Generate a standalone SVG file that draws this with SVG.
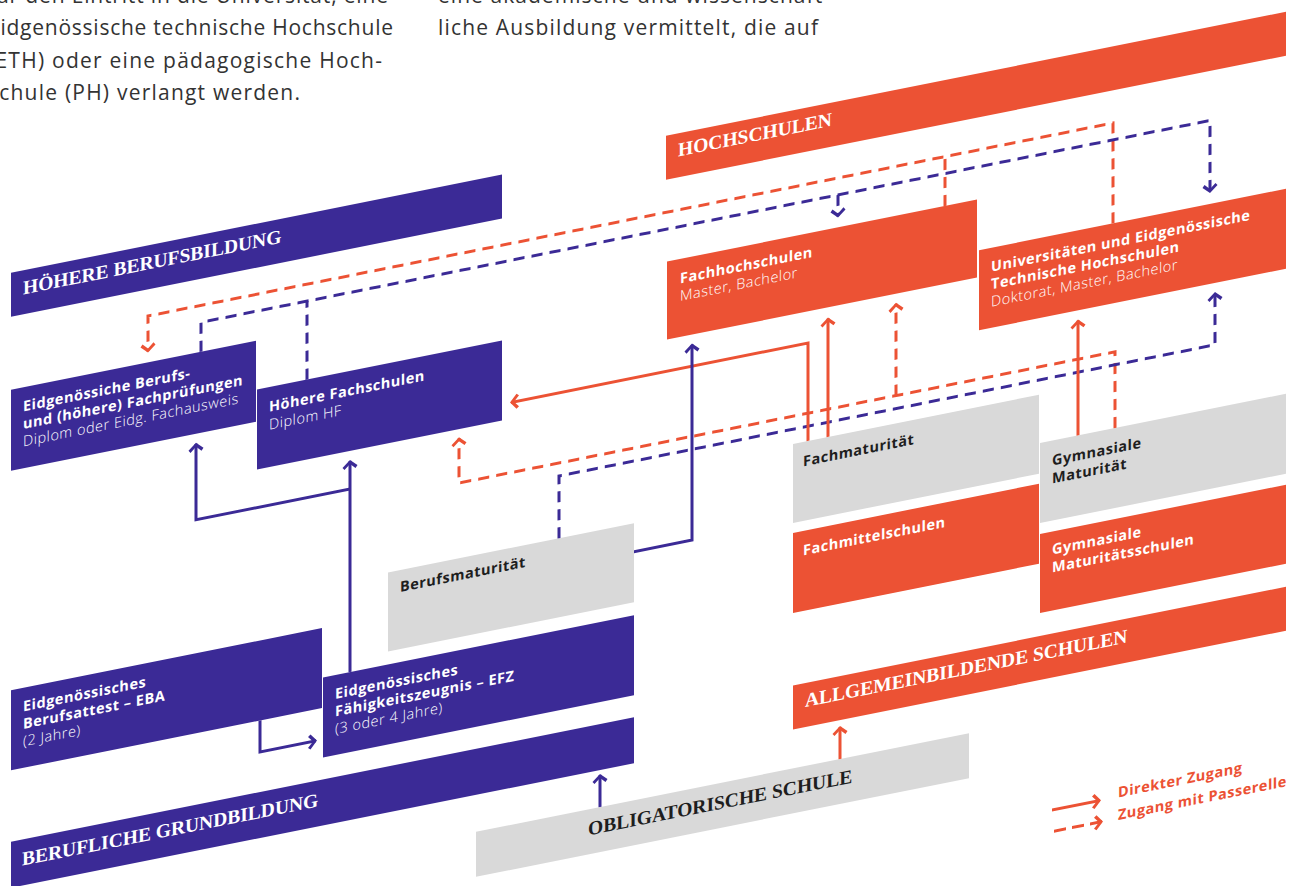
<svg xmlns="http://www.w3.org/2000/svg" width="1290" height="886" viewBox="0 0 1290 886">
<defs>
<style>
.p{fill:#3B2A96}.o{fill:#EC5234}.g{fill:#D9D9D9}
.h{font-family:"Liberation Serif",serif;font-weight:bold;font-size:19.5px;fill:#fff}
.b{font-family:"Open Sans",sans-serif;font-weight:700;font-size:14.5px;letter-spacing:0.5px;fill:#fff}
.r{font-family:"Open Sans",sans-serif;font-weight:300;font-size:14.5px;letter-spacing:0.5px;fill:#fff}
.k{fill:#1e1e1e}
.lg{fill:#EC5234}
.para{font-family:"Open Sans",sans-serif;font-size:21px;fill:#333}
.cp{fill:none;stroke:#3B2A96;stroke-width:3}
.co{fill:none;stroke:#EC5234;stroke-width:3}
.d{stroke-dasharray:11 7}
</style>
<marker id="ap" markerUnits="userSpaceOnUse" markerWidth="20" markerHeight="20" viewBox="-10 -10 20 20" refX="0" refY="0" orient="auto"><path d="M1,0 L-5.5,-7.5 L-8,-5.5 L-3,0 L-8,5.5 L-5.5,7.5 Z" fill="#3B2A96"/></marker>
<marker id="ao" markerUnits="userSpaceOnUse" markerWidth="20" markerHeight="20" viewBox="-10 -10 20 20" refX="0" refY="0" orient="auto"><path d="M1,0 L-5.5,-7.5 L-8,-5.5 L-3,0 L-8,5.5 L-5.5,7.5 Z" fill="#EC5234"/></marker>
</defs>
<rect width="1290" height="886" fill="#fff"/>
<g id="intro-text" class="para">
<text x="-12" y="2.5" textLength="400">für den Eintritt in die Universität, eine</text>
<text x="-12" y="35" textLength="405">Eidgenössische technische Hochschule</text>
<text x="-12" y="67.5" textLength="394">(ETH) oder eine pädagogische Hoch-</text>
<text x="-12" y="100" textLength="312">schule (PH) verlangt werden.</text>
<text x="438" y="2.5" textLength="392">eine akademische und wissenschaft-</text>
<text x="438" y="35" textLength="380">liche Ausbildung vermittelt, die auf</text>
</g>
<g transform="matrix(1,-0.2,0,1,0,0)">
<g id="hoehere-berufsbildung"><rect class="p" x="11" y="275" width="491" height="44"/><text class="h" x="23" y="299">HÖHERE BERUFSBILDUNG</text></g>
<g id="hochschulen"><rect class="o" x="666" y="269" width="620" height="44"/><text class="h" x="678" y="292">HOCHSCHULEN</text></g>
<g id="fachhochschulen"><rect class="o" x="667" y="395" width="310" height="78"/><text class="b" x="680" y="419.5">Fachhochschulen</text><text class="r" x="680" y="437">Master, Bachelor</text></g>
<g id="universitaeten"><rect class="o" x="979" y="446" width="307" height="80"/><text class="b" x="991" y="470">Universitäten und Eidgenössische</text><text class="b" x="991" y="487.5">Technische Hochschulen</text><text class="r" x="991" y="505">Doktorat, Master, Bachelor</text></g>
<g id="eidg-fachpruefungen"><rect class="p" x="11" y="392" width="245" height="81"/><text class="b" x="23" y="416">Eidgenössiche Berufs-</text><text class="b" x="23" y="433.5">und (höhere) Fachprüfungen</text><text class="r" x="23" y="451">Diplom oder Eidg. Fachausweis</text></g>
<g id="hoehere-fachschulen"><rect class="p" x="257" y="441" width="245" height="80"/><text class="b" x="269" y="465.5">Höhere Fachschulen</text><text class="r" x="269" y="483.5">Diplom HF</text></g>
<g id="berufsmaturitaet"><rect class="g" x="388" y="650" width="246" height="79"/><text class="b k" x="400" y="672">Berufsmaturität</text></g>
<g id="fachmaturitaet"><rect class="g" x="793" y="602.5" width="246" height="79"/><text class="b k" x="803" y="627">Fachmaturität</text></g>
<g id="fachmittelschulen"><rect class="o" x="793" y="691.5" width="246" height="80"/><text class="b" x="803" y="716">Fachmittelschulen</text></g>
<g id="gymnasiale-maturitaet"><rect class="g" x="1040" y="651" width="246" height="80"/><text class="b k" x="1052" y="676">Gymnasiale</text><text class="b k" x="1052" y="694">Maturität</text></g>
<g id="gymnasiale-maturitaetsschulen"><rect class="o" x="1040" y="742" width="246" height="79"/><text class="b" x="1052" y="765">Gymnasiale</text><text class="b" x="1052" y="783">Maturitätsschulen</text></g>
<g id="allgemeinbildende-schulen"><rect class="o" x="793" y="844" width="493" height="44"/><text class="h" x="805" y="868">ALLGEMEINBILDENDE SCHULEN</text></g>
<g id="eba"><rect class="p" x="11" y="692.5" width="311" height="80"/><text class="b" x="23" y="716">Eidgenössisches</text><text class="b" x="23" y="733.5">Berufsattest – EBA</text><text class="r" x="23" y="751">(2 Jahre)</text></g>
<g id="efz"><rect class="p" x="323" y="742" width="311" height="80"/><text class="b" x="335" y="766">Eidgenössisches</text><text class="b" x="335" y="783.5">Fähigkeitszeugnis – EFZ</text><text class="r" x="335" y="801">(3 oder 4 Jahre)</text></g>
<g id="berufliche-grundbildung"><rect class="p" x="11" y="844" width="623" height="46"/><text class="h" x="22" y="870">BERUFLICHE GRUNDBILDUNG</text></g>
<g id="obligatorische-schule"><rect class="g" x="476" y="927" width="493" height="45"/><text class="h k" x="588" y="953">OBLIGATORISCHE SCHULE</text></g>
<g id="connectors">
<path class="co d" d="M1113,446 V345.6 H148 V381" marker-end="url(#ao)"/>
<path class="co d" d="M945,395 V345.6"/>
<path class="cp d" d="M201,392 V362.5 H1210 V434" marker-end="url(#ap)"/>
<path class="cp d" d="M307,441 V362.5"/>
<path class="cp d" d="M838,362.5 V384" marker-end="url(#ap)"/>
<path class="co d" d="M1115,651 V574.8 H459 V530" marker-end="url(#ao)"/>
<path class="co d" d="M896,574.8 V483" marker-end="url(#ao)"/>
<path class="cp d" d="M559,650 V587.8 H1215 V536" marker-end="url(#ap)"/>
<path class="co" d="M808,602.5 V504.6 H511" marker-end="url(#ao)"/>
<path class="co" d="M828,602.5 V484" marker-end="url(#ao)"/>
<path class="co" d="M1078,651 V536" marker-end="url(#ao)"/>
<path class="cp" d="M634,678.5 H692 V483" marker-end="url(#ap)"/>
<path class="cp" d="M350,742 V531" marker-end="url(#ap)"/>
<path class="cp" d="M350,559 H196 V483" marker-end="url(#ap)"/>
<path class="cp" d="M260,772.5 V804 H316" marker-end="url(#ap)"/>
<path class="cp" d="M600,927 V895" marker-end="url(#ap)"/>
<path class="co" d="M840,927 V895" marker-end="url(#ao)"/>
</g>
<g id="legend">
<path class="co" d="M1052,1020.5 H1100" marker-end="url(#ao)"/>
<path class="co" d="M1054,1042 H1102" stroke-dasharray="12 6" marker-end="url(#ao)"/>
<text class="b lg" x="1118" y="1021">Direkter Zugang</text>
<text class="b lg" x="1118" y="1043.5">Zugang mit Passerelle</text>
</g>
</g>
</svg>
